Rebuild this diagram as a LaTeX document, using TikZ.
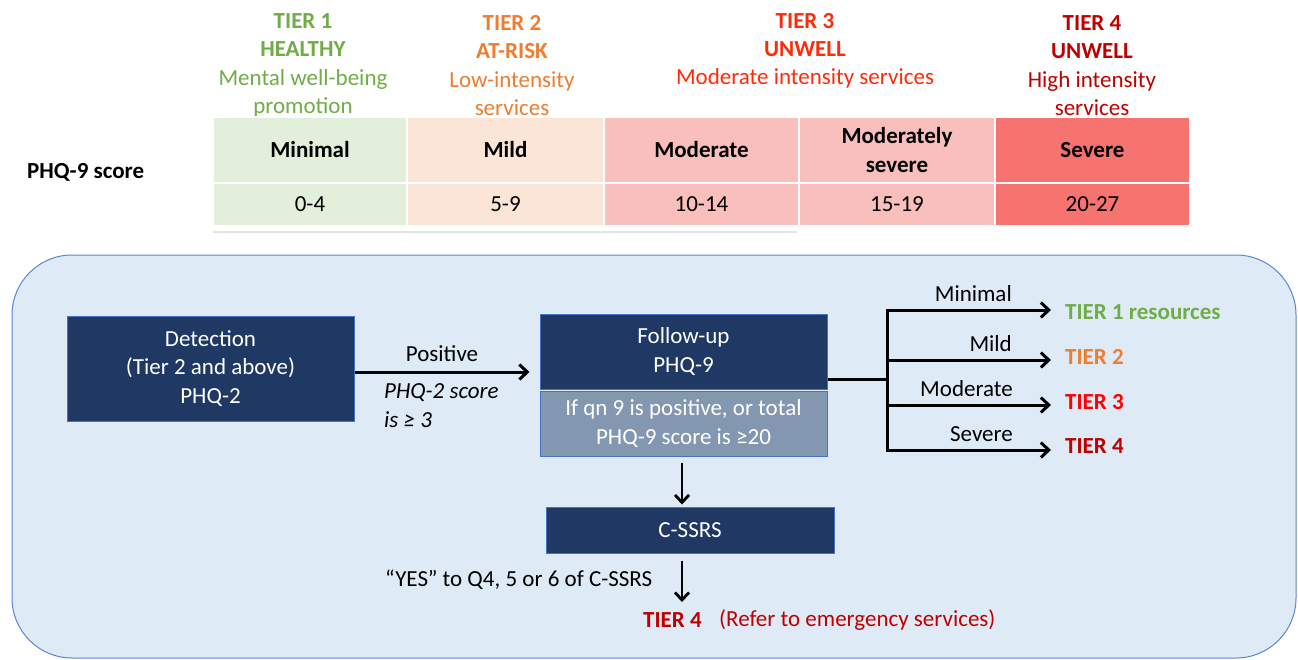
\documentclass[tikz,border=0pt]{standalone}
\usepackage{fontspec}
\setmainfont{Carlito}
\usetikzlibrary{arrows.meta}
\definecolor{tgreen}{HTML}{70AD47}
\definecolor{torange}{HTML}{ED7D31}
\definecolor{tred}{HTML}{FF2A0A}
\definecolor{tpure}{HTML}{FF0000}
\definecolor{tdark}{HTML}{C00000}
\definecolor{cmin}{HTML}{E2EFDA}
\definecolor{cmild}{HTML}{FBE5D6}
\definecolor{cmod}{HTML}{F8BFBD}
\definecolor{csev}{HTML}{F7736F}
\definecolor{panel}{HTML}{DEEBF7}
\definecolor{panelline}{HTML}{5B86D0}
\definecolor{boxline}{HTML}{4472C4}
\definecolor{navy}{HTML}{203864}
\definecolor{slate}{HTML}{8497B0}
\definecolor{rulegrey}{HTML}{E4E4E4}
\newcommand{\dgfs}{\fontsize{23}{28.3}\selectfont}
\begin{document}
\begin{tikzpicture}[x=1pt,y=-1pt,
  every node/.style={font=\dgfs, inner sep=0pt},
  hdr/.style={align=center},
  cellb/.style={draw=white, line width=2pt, align=center, font=\dgfs\bfseries},
  celln/.style={draw=white, line width=2pt, align=center, font=\dgfs},
  nbox/.style={fill=navy, draw=boxline, line width=1pt, text=white, align=center},
  gbox/.style={fill=slate, draw=boxline, line width=1pt, text=white, align=center},
  tgt/.style={anchor=west, inner xsep=14pt, inner ysep=0pt, font=\dgfs\bfseries},
  lbl/.style={anchor=base east},
  arr/.style={line width=3pt, -{Straight Barb[length=8pt,width=15pt]}},
  darr/.style={line width=2.8pt, -{Straight Barb[length=7.5pt,width=14pt]}},
  line3/.style={line width=3pt}]
\useasboundingbox (0,0) rectangle (1298,659);
\fill[white] (0,0) rectangle (1298,659);

% tier headers
\node[hdr, text=tgreen] (h1) at (303,65.5) {\textbf{TIER 1}\\\textbf{HEALTHY}\\Mental well-being\\promotion};
\node[hdr, text=torange] (h2) at (512,65.5) {\textbf{TIER 2}\\\textbf{AT-RISK}\\Low-intensity\\services};
\node[hdr, text=tred] (h3) at (805,51) {\textbf{TIER 3}\\\textbf{UNWELL}\\Moderate intensity services};
\node[hdr, text=tdark] (h4) at (1092,65.5) {\textbf{TIER 4}\\\textbf{UNWELL}\\High intensity\\services};

% table
\node[anchor=west, font=\dgfs\bfseries] (score) at (27,172) {PHQ-9 score};
\node[cellb, fill=cmin,  minimum width=194pt, minimum height=66pt] (c11) at (310,150) {Minimal};
\node[cellb, fill=cmild, minimum width=197pt, minimum height=66pt] (c12) at (505.5,150) {Mild};
\node[cellb, fill=cmod,  minimum width=195pt, minimum height=66pt] (c13) at (701.5,150) {Moderate};
\node[cellb, fill=cmod,  minimum width=196pt, minimum height=66pt] (c14) at (897,150) {Moderately\\severe};
\node[cellb, fill=csev,  minimum width=195pt, minimum height=66pt] (c15) at (1092.5,150) {Severe};
\node[celln, fill=cmin,  minimum width=194pt, minimum height=43pt] (c21) at (310,204.5) {0-4};
\node[celln, fill=cmild, minimum width=197pt, minimum height=43pt] (c22) at (505.5,204.5) {5-9};
\node[celln, fill=cmod,  minimum width=195pt, minimum height=43pt] (c23) at (701.5,204.5) {10-14};
\node[celln, fill=cmod,  minimum width=196pt, minimum height=43pt] (c24) at (897,204.5) {15-19};
\node[celln, fill=csev,  minimum width=195pt, minimum height=43pt] (c25) at (1092.5,204.5) {20-27};
\draw[rulegrey, line width=1.5pt] (213,232) -- (797,232);

% panel
\draw[fill=panel, draw=panelline, line width=1pt, rounded corners=60pt] (12,255) rectangle (1296,658);

% boxes
\node[nbox, minimum width=287pt, minimum height=105pt] (det) at (210.5,368.5) {Detection\\(Tier 2 and above)\\PHQ-2};
\node[nbox, minimum width=287pt, minimum height=75pt] (fu) at (683.5,351.5) {Follow-up\\PHQ-9};
\node[gbox, minimum width=287pt, minimum height=65pt] (gb) at (683.5,423.5) {If qn 9 is positive, or total\\PHQ-9 score is ≥20};
\node[nbox, minimum width=288pt, minimum height=46pt] (cs) at (690,530) {C-SSRS};

% detection -> follow-up
\coordinate (p) at (0,372);
\draw[arr, shorten >=10pt] (det.east |- p) -- (fu.west |- p);
\node (pos) at (442,354) {Positive};
\node[anchor=west, align=left, font=\dgfs\itshape] (cond) at (384,405.5) {PHQ-2 score\\is ≥ 3};

% branches
\coordinate (j) at (887,379);
\coordinate (b1) at (887,310);
\coordinate (b2) at (887,360);
\coordinate (b3) at (887,405);
\coordinate (b4) at (887,450);
\draw[line3] (fu.east |- j) -- (j);
\draw[line3, line cap=rect] (b1) -- (b4);
\node[tgt, text=tgreen] (t1) at (1051,312) {TIER 1 resources};
\node[tgt, text=torange] (t2) at (1051,357) {TIER 2};
\node[tgt, text=tpure] (t3) at (1051,402) {TIER 3};
\node[tgt, text=tdark] (t4) at (1051,446) {TIER 4};
\draw[arr] (b1) -- (b1 -| t1.west);
\draw[arr] (b2) -- (b2 -| t2.west);
\draw[arr] (b3) -- (b3 -| t3.west);
\draw[arr] (b4) -- (b4 -| t4.west);
\node[lbl] (l1) at (1012,301.5) {Minimal};
\node[lbl] (l2) at (1012,351.5) {Mild};
\node[lbl] (l3) at (1013,396) {Moderate};
\node[lbl] (l4) at (1013,441) {Severe};

% C-SSRS path
\coordinate (ax) at (682,0);
\draw[darr, shorten <=6pt, shorten >=2pt] (gb.south -| ax) -- (cs.north -| ax);
\coordinate (yend) at (682,602);
\draw[darr, shorten <=7pt] (cs.south -| yend) -- (yend);
\node[anchor=west] (yes) at (385,580) {“YES” to Q4, 5 or 6 of C-SSRS};
\node[anchor=west, text=tdark, font=\dgfs\bfseries] (t4e) at (643,620) {TIER 4};
\node[anchor=west, text=tdark] (ref) at (719,620) {(Refer to emergency services)};
\end{tikzpicture}
\end{document}
